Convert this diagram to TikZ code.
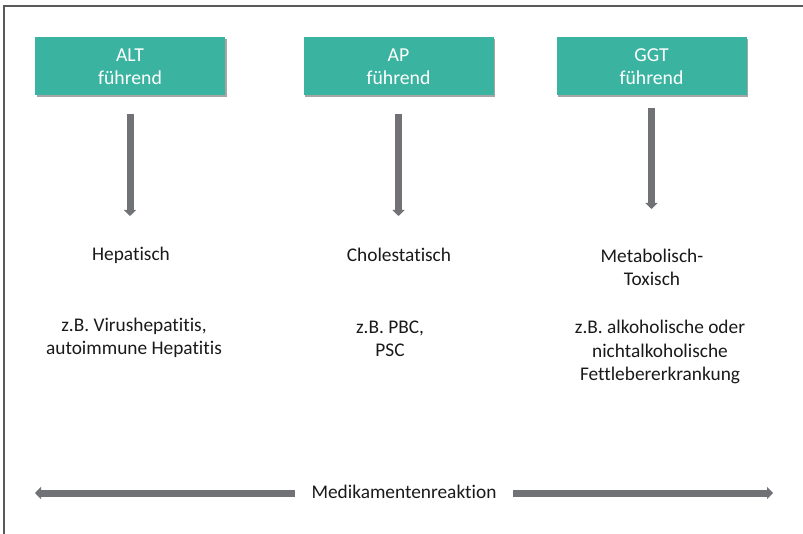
\documentclass[tikz,border=0pt]{standalone}
\usepackage{fontspec}
\setmainfont{Carlito}[Ligatures=NoCommon]
\usetikzlibrary{arrows.meta,shadows}
\definecolor{tealbox}{HTML}{3AB4A0}
\definecolor{arrgray}{HTML}{707276}
\definecolor{txtcol}{HTML}{1A1A1A}
\definecolor{framecol}{HTML}{5A5A5A}
\begin{document}
\begin{tikzpicture}[x=0.75pt,y=-0.75pt,
  lbox/.style={fill=tealbox, minimum width=142.5pt, minimum height=43.5pt, text=white,
    align=center, font=\fontsize{14.8}{17.3}\selectfont,
    drop shadow={shadow xshift=1.2pt, shadow yshift=-1.2pt, opacity=0.35, fill=black}},
  lbl/.style={text=txtcol, align=center, font=\fontsize{14.5}{17.5}\selectfont, inner sep=0pt},
  varrow/.style={draw=arrgray, line width=5.25pt, -{Triangle[width=9pt,length=4.5pt]}},
  harrow/.style={draw=arrgray, line width=5.25pt, -{Triangle[width=9pt,length=4.5pt]}},
]
\useasboundingbox (0,0) rectangle (803,534);
\fill[white] (0,0) rectangle (803,534);
\draw[framecol, line width=1.2pt] (4,534) -- (4,6) -- (803,6);

% boxes
\node[lbox] (alt) at (130,66.5) {ALT\\führend};
\node[lbox] (ap)  at (398.5,66.5) {AP\\führend};
\node[lbox] (ggt) at (651.5,66.5) {GGT\\führend};

% category labels
\node[lbl] (hep) at (131,255) {Hepatisch};
\node[lbl] (chol) at (399,255) {Cholestatisch};
\node[lbl] (meta) at (652,267.5) {Metabolisch-\\Toxisch};

% examples
\node[lbl] (ex1) at (134,338) {z.B. Virushepatitis,\\autoimmune Hepatitis};
\node[lbl] (ex2) at (390,339) {z.B. PBC,\\PSC};
\node[lbl] (ex3) at (660,352) {z.B. alkoholische oder\\nichtalkoholische\\Fettlebererkrankung};

% vertical arrows
\coordinate (altend) at (130,216);
\coordinate (apend) at (398.5,216);
\coordinate (ggtend) at (651.5,209);
\draw[varrow, shorten <=13.5pt] (alt) -- (altend);
\draw[varrow, shorten <=13.5pt] (ap) -- (apend);
\draw[varrow, shorten <=9pt] (ggt) -- (ggtend);

% bottom
\node[lbl, inner xsep=12.5pt] (med) at (404,492) {Medikamentenreaktion};
\coordinate (lend) at (35,493);
\coordinate (rend) at (773,493);
\draw[harrow] (med.west |- lend) -- (lend);
\draw[harrow] (med.east |- rend) -- (rend);
\end{tikzpicture}
\end{document}
